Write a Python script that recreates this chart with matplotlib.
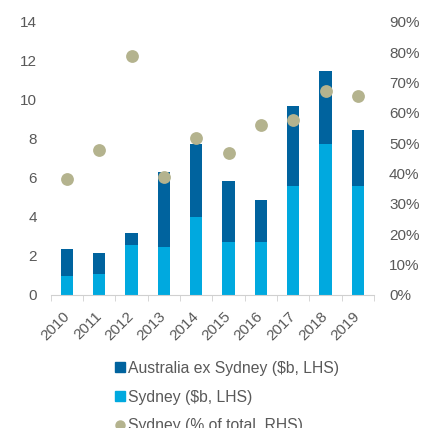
import numpy as np
import matplotlib.pyplot as plt
from matplotlib.lines import Line2D

plt.rcParams['font.family'] = ['Liberation Sans', 'DejaVu Sans']

years = ['2010', '2011', '2012', '2013', '2014', '2015', '2016', '2017', '2018', '2019']
sydney = [0.97, 1.08, 2.55, 2.47, 4.0, 2.72, 2.72, 5.58, 7.74, 5.58]
total = [2.34, 2.15, 3.19, 6.30, 7.72, 5.82, 4.85, 9.67, 11.49, 8.44]
ex_sydney = [t - s for t, s in zip(total, sydney)]
sydney_pct = [38.3, 47.7, 78.7, 38.8, 51.8, 46.9, 56.0, 57.6, 67.3, 65.6]

dark = '#00639e'
light = '#00a9df'
khaki = '#b4b38e'
grey = '#595959'

fig = plt.figure(figsize=(4.27, 4.28), dpi=100)
ax = fig.add_axes([0.119, 0.311, 0.757, 0.638])
x = np.arange(len(years))
ax.bar(x, sydney, width=0.38, color=light, zorder=2)
ax.bar(x, ex_sydney, bottom=sydney, width=0.38, color=dark, zorder=2)
ax.set_ylim(0, 14)
ax.set_yticks(range(0, 15, 2))
ax.set_xlim(-0.5, len(years) - 0.5)
ax.set_xticks(x)
ax.set_xticklabels(years, rotation=45, ha='right', va='center', rotation_mode='anchor')
ax.set_xticks(np.arange(-0.5, len(years)), minor=True)
ax.tick_params(axis='x', which='major', length=0, pad=14, labelsize=11, labelcolor=grey)
ax.tick_params(axis='x', which='minor', length=4, color='#d0d0d0', direction='out')
ax.tick_params(axis='y', length=0, pad=10, labelsize=11, labelcolor=grey)
for s in ['top', 'right', 'left']:
    ax.spines[s].set_visible(False)
ax.spines['bottom'].set_color('#d0d0d0')

ax2 = ax.twinx()
ax2.scatter(x, sydney_pct, s=85, color=khaki, zorder=3, linewidths=0)
ax2.set_ylim(0, 90)
ax2.set_yticks(range(0, 91, 10))
ax2.set_yticklabels([f'{v}%' for v in range(0, 91, 10)])
ax2.tick_params(axis='y', length=0, pad=10.8, labelsize=11, labelcolor=grey)
for s in ax2.spines.values():
    s.set_visible(False)

handles = [
    Line2D([], [], marker='s', ls='', color=dark, markersize=6.5),
    Line2D([], [], marker='s', ls='', color=light, markersize=6.5),
    Line2D([], [], marker='o', ls='', color=khaki, markersize=6.5),
]
labels = ['Australia ex Sydney ($b, LHS)', 'Sydney ($b, LHS)', 'Sydney (% of total, RHS)']
fig.legend(handles, labels, loc='upper left', bbox_to_anchor=(0.27, 0.157), frameon=False,
           handlelength=0.6, handletextpad=0.2, labelspacing=0.88, fontsize=11.3,
           labelcolor=grey, borderaxespad=0, borderpad=0)

fig.savefig('out.png', dpi=100)
